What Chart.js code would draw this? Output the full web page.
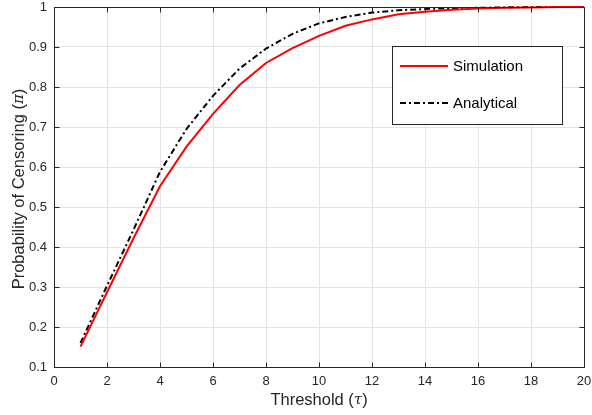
<!DOCTYPE html>
<html>
<head>
<meta charset="utf-8">
<script src="https://cdn.jsdelivr.net/npm/chart.js@4.4.1/dist/chart.umd.min.js"></script>
<style>
  html, body { margin: 0; padding: 0; background: #fff; }
  #wrap { width: 592px; height: 415px; }
</style>
</head>
<body>
<div id="wrap"><canvas id="c" width="592" height="415"></canvas></div>
<script>
// threshold values and the two curves
const thresholds = [1, 2, 3, 4, 5, 6, 7, 8, 9, 10, 11, 12, 13, 14, 15, 16, 17, 18, 19, 20];
const simulation = [0.151, 0.287, 0.422, 0.552, 0.651, 0.733, 0.805, 0.860, 0.897, 0.928, 0.953, 0.969, 0.982, 0.988, 0.993, 0.996, 0.998, 0.999, 1.0, 1.0];
const analytical = [0.160, 0.303, 0.443, 0.588, 0.695, 0.778, 0.846, 0.896, 0.933, 0.959, 0.975, 0.986, 0.992, 0.995, 0.997, 0.998, 0.999, 1.0, 1.0, 1.0];
const xTicks = [0, 2, 4, 6, 8, 10, 12, 14, 16, 18, 20];
const yTicks = [0.1, 0.2, 0.3, 0.4, 0.5, 0.6, 0.7, 0.8, 0.9, 1];

const AXIS = '#262626';
const GRID = '#e3e3e3';
const FONT = '"Liberation Sans", Arial, Helvetica, sans-serif';

const pts = ys => thresholds.map((x, i) => ({ x, y: ys[i] }));

// box, inward ticks, axis titles and legend, drawn MATLAB-style
const matlabAxes = {
  id: 'matlabAxes',
  afterDatasetsDraw(chart) {
    const { ctx, chartArea: a, scales: { x, y } } = chart;
    ctx.save();
    ctx.strokeStyle = AXIS;
    ctx.lineWidth = 1;
    ctx.beginPath();
    const L = Math.round(a.left) + 0.5, R = Math.round(a.right) + 0.5;
    const T = Math.round(a.top) + 0.5, B = Math.round(a.bottom) + 0.5;
    ctx.rect(L, T, R - L, B - T);
    const tl = 5;
    xTicks.forEach(v => {
      const px = Math.round(x.getPixelForValue(v)) + 0.5;
      ctx.moveTo(px, B); ctx.lineTo(px, B - tl);
      ctx.moveTo(px, T); ctx.lineTo(px, T + tl);
    });
    yTicks.forEach(v => {
      const py = Math.round(y.getPixelForValue(v)) + 0.5;
      ctx.moveTo(L, py); ctx.lineTo(L + tl, py);
      ctx.moveTo(R, py); ctx.lineTo(R - tl, py);
    });
    ctx.stroke();

    // axis titles with italic greek symbol
    const drawMixed = (parts, cx, cy) => {
      let w = 0;
      parts.forEach(p => { ctx.font = p.f; w += ctx.measureText(p.t).width; });
      let xx = cx - w / 2;
      parts.forEach(p => {
        ctx.font = p.f;
        ctx.fillText(p.t, xx, cy);
        xx += ctx.measureText(p.t).width;
      });
    };
    ctx.fillStyle = AXIS;
    ctx.textBaseline = 'middle';
    ctx.textAlign = 'left';
    const reg = '16.5px ' + FONT;
    const ita = 'italic 15px "DejaVu Serif", serif';
    drawMixed([{ t: 'Threshold (', f: reg }, { t: 'τ', f: ita }, { t: ')', f: reg }], (a.left + a.right) / 2, 400);
    ctx.save();
    ctx.translate(19, 189);
    ctx.rotate(-Math.PI / 2);
    drawMixed([{ t: 'Probability of Censoring (', f: reg }, { t: 'π', f: ita }, { t: ')', f: reg }], 0, 0);
    ctx.restore();

    // legend box
    const lx = 392.5, ly = 46.5, lw = 170, lh = 78;
    ctx.fillStyle = '#fff';
    ctx.fillRect(lx, ly, lw, lh);
    ctx.strokeStyle = AXIS;
    ctx.lineWidth = 1;
    ctx.strokeRect(lx, ly, lw, lh);
    const rows = [66, 103];
    chart.data.datasets.forEach((ds, i) => {
      ctx.beginPath();
      ctx.strokeStyle = ds.borderColor;
      ctx.lineWidth = ds.borderWidth;
      ctx.setLineDash(ds.borderDash || []);
      ctx.moveTo(400, rows[i]); ctx.lineTo(448, rows[i]);
      ctx.stroke();
      ctx.setLineDash([]);
      ctx.fillStyle = '#000';
      ctx.font = '15px ' + FONT;
      ctx.fillText(ds.label, 453, rows[i] + 1);
    });
    ctx.restore();
  }
};

// drop the label overhang padding so the plot box sits where the figure has it
const noOverhang = s => { s.paddingTop = 0; s.paddingRight = 0; s.paddingBottom = 0; s.paddingLeft = 0; };

new Chart(document.getElementById('c'), {
  type: 'line',
  data: {
    datasets: [
      { label: 'Simulation', data: pts(simulation), borderColor: '#ff0000', borderWidth: 2, pointRadius: 0, tension: 0, fill: false, clip: false },
      { label: 'Analytical', data: pts(analytical), borderColor: '#000000', borderWidth: 2, borderDash: [6, 3, 2, 3], pointRadius: 0, tension: 0, fill: false, clip: false }
    ]
  },
  options: {
    responsive: false,
    animation: false,
    devicePixelRatio: 1,
    layout: { padding: { left: 0, right: 8, top: 7, bottom: 0 } },
    plugins: { legend: { display: false }, tooltip: { enabled: false } },
    scales: {
      x: {
        type: 'linear', min: 0, max: 20,
        afterBuildTicks: s => { s.ticks = xTicks.map(v => ({ value: v })); },
        afterFit: s => { s.height = 48; noOverhang(s); },
        grid: { color: GRID, drawTicks: false },
        border: { display: false },
        ticks: { color: AXIS, padding: 7, font: { family: FONT, size: 13 }, maxRotation: 0 }
      },
      y: {
        type: 'linear', min: 0.1, max: 1,
        afterBuildTicks: s => { s.ticks = yTicks.map(v => ({ value: v })); },
        afterFit: s => { s.width = 54; noOverhang(s); },
        grid: { color: GRID, drawTicks: false },
        border: { display: false },
        ticks: { color: AXIS, padding: 7, font: { family: FONT, size: 13 }, callback: v => String(+v.toFixed(1)) }
      }
    }
  },
  plugins: [matlabAxes]
});
</script>
</body>
</html>
